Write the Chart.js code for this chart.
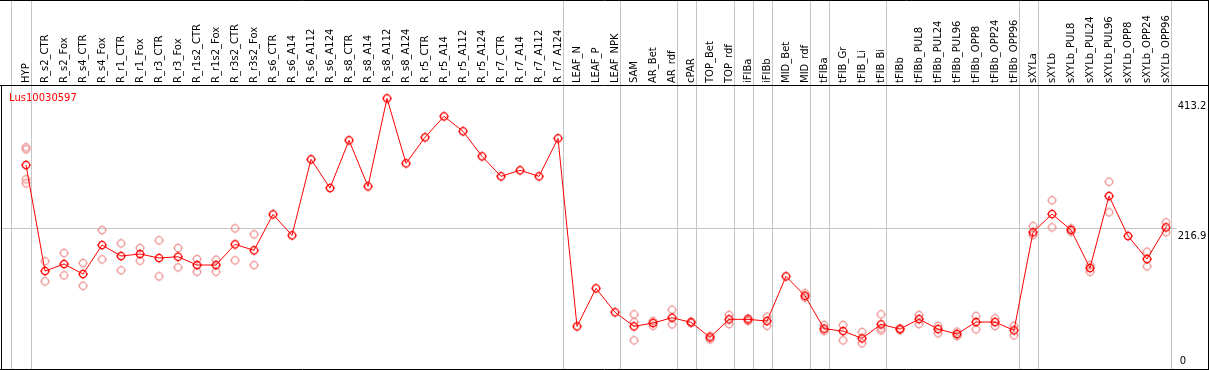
<!DOCTYPE html>
<html lang="en">
  <head>
    <meta charset="UTF-8" />
    <title>Lus10030597</title>
    <script src="https://cdn.jsdelivr.net/npm/chart.js@4/dist/chart.umd.min.js"></script>
    <style>
      body { margin: 0; background: #fff; }
      canvas { display: block; }
    </style>
  </head>
  <body>
    <canvas id="expressionChart" width="1209" height="370"></canvas>

    <script>
      const geneName = 'Lus10030597'

      const categories = [
        'HYP', 'R_s2_CTR', 'R_s2_Fox', 'R_s4_CTR', 'R_s4_Fox', 'R_r1_CTR', 'R_r1_Fox',
        'R_r3_CTR', 'R_r3_Fox', 'R_r1s2_CTR', 'R_r1s2_Fox', 'R_r3s2_CTR', 'R_r3s2_Fox',
        'R_s6_CTR', 'R_s6_A14', 'R_s6_A112', 'R_s6_A124', 'R_s8_CTR', 'R_s8_A14',
        'R_s8_A112', 'R_s8_A124', 'R_r5_CTR', 'R_r5_A14', 'R_r5_A112', 'R_r5_A124',
        'R_r7_CTR', 'R_r7_A14', 'R_r7_A112', 'R_r7_A124', 'LEAF_N', 'LEAF_P', 'LEAF_NPK',
        'SAM', 'AR_Bet', 'AR_rdf', 'cPAR', 'TOP_Bet', 'TOP_rdf', 'iFIBa', 'iFIBb',
        'MID_Bet', 'MID_rdf', 'tFIBa', 'tFIB_Gr', 'tFIB_Li', 'tFIB_Bi', 'tFIBb',
        'tFIBb_PUL8', 'tFIBb_PUL24', 'tFIBb_PUL96', 'tFIBb_OPP8', 'tFIBb_OPP24',
        'tFIBb_OPP96', 'sXYLa', 'sXYLb', 'sXYLb_PUL8', 'sXYLb_PUL24', 'sXYLb_PUL96',
        'sXYLb_OPP8', 'sXYLb_OPP24', 'sXYLb_OPP96'
      ]

      // mean expression per sample
      const meanValues = [
        312.5, 152.4, 163.0, 147.9, 191.7, 175.1, 178.1, 172.1, 174.0, 161.5, 161.5,
        192.7, 183.7, 238.0, 206.3, 321.1, 277.7, 349.8, 280.3, 413.2, 315.0, 354.3,
        386.0, 363.4, 325.6, 295.4, 304.5, 295.4, 352.8, 68.9, 126.3, 90.1, 68.9, 73.9,
        81.9, 75.0, 52.3, 79.5, 79.5, 76.9, 144.4, 115.1, 65.3, 61.8, 50.8, 71.9, 64.8,
        79.9, 64.8, 57.3, 75.4, 75.4, 62.9, 210.9, 238.5, 214.4, 157.0, 265.7, 205.3,
        170.5, 218.4
      ]

      // individual replicates (empty where none are shown)
      const replicateValues = [
        [339.2, 336.2, 290.9, 284.8], [167.1, 136.9], [179.6, 145.9], [164.5, 130.2],
        [214.3, 170.1], [194.2, 153.5], [187.2, 168.0], [198.8, 144.4], [187.2, 158.0],
        [170.5, 151.4], [169.5, 151.4], [216.9, 168.6], [207.8, 161.5],
        [], [], [], [], [], [], [], [], [], [], [], [], [], [], [], [], [], [], [],
        [87.0, 75.4, 47.8], [76.9, 69.8], [94.0, 71.9], [76.0, 74.0], [54.7, 49.3],
        [86.0, 72.4], [81.0, 76.9], [83.4, 69.8], [], [118.8, 112.0], [70.9, 61.8],
        [70.9, 47.8], [60.3, 43.3], [87.0, 62.9, 65.8], [66.0, 63.0], [86.0, 72.4],
        [69.4, 58.4], [60.8, 54.3], [84.5, 64.4], [81.0, 69.4], [69.8, 55.3],
        [220.4, 206.8], [259.2, 218.4], [216.9, 211.8], [161.5, 151.4], [287.3, 241.1],
        [], [181.6, 159.5], [225.9, 210.9]
      ]

      const yTicks = [0, 216.9, 413.2]
      // last sample of each group
      const groupEnds = [0, 28, 31, 34, 35, 37, 38, 39, 41, 42, 45, 52, 53, 60]

      Chart.defaults.font.family = '"DejaVu Sans", sans-serif'
      Chart.defaults.font.size = 10

      function makeMarker(color) {
        const c = document.createElement('canvas')
        c.width = 12
        c.height = 12
        const g = c.getContext('2d')
        g.strokeStyle = color
        g.fillStyle = color
        g.lineWidth = 1.3
        g.beginPath()
        g.arc(6, 6, 3.6, 0, Math.PI * 2)
        g.stroke()
        g.fillRect(5.5, 1, 1, 1)
        g.fillRect(5.5, 10, 1, 1)
        g.fillRect(1, 5.5, 1, 1)
        g.fillRect(10, 5.5, 1, 1)
        return c
      }

      const meanPoints = meanValues.map((v, i) => ({ x: i, y: v }))
      const repPoints = []
      replicateValues.forEach((reps, i) => {
        reps.forEach(v => repPoints.push({ x: i, y: v }))
      })

      const framePlugin = {
        id: 'frame',
        beforeDatasetsDraw(chart) {
          const { ctx, scales: { x } } = chart
          ctx.save()
          ctx.strokeStyle = '#c4c4c4'
          ctx.lineWidth = 1
          const lines = [-0.8].concat(groupEnds.map(i => i + 0.25))
          lines.forEach(v => {
            const px = Math.round(x.getPixelForValue(v)) + 0.5
            ctx.beginPath()
            ctx.moveTo(px, 0)
            ctx.lineTo(px, chart.height)
            ctx.stroke()
          })
          ctx.restore()
        },
        afterDraw(chart) {
          const { ctx, chartArea, scales: { y } } = chart
          const W = chart.width
          const H = chart.height
          ctx.save()
          ctx.strokeStyle = '#000'
          ctx.lineWidth = 1
          ctx.beginPath()
          ctx.moveTo(0, 0.5); ctx.lineTo(W, 0.5)
          ctx.moveTo(0, chartArea.top + 0.5); ctx.lineTo(W, chartArea.top + 0.5)
          ctx.moveTo(0, H - 0.5); ctx.lineTo(W, H - 0.5)
          ctx.moveTo(1.5, chartArea.top); ctx.lineTo(1.5, H)
          ctx.moveTo(W - 0.5, 0); ctx.lineTo(W - 0.5, H)
          ctx.stroke()

          // gene name
          ctx.fillStyle = '#ff0000'
          ctx.font = '10px "DejaVu Sans"'
          ctx.textAlign = 'left'
          ctx.textBaseline = 'alphabetic'
          ctx.fillText(geneName, chartArea.left + 8, chartArea.top + 16)

          // value labels on the right
          ctx.fillStyle = '#000'
          yTicks.forEach(v => {
            const py = y.getPixelForValue(v)
            if (v === 0) {
              ctx.textBaseline = 'alphabetic'
              ctx.fillText(String(v), chartArea.right + 9, py - 7.5)
            } else {
              ctx.textBaseline = 'top'
              ctx.fillText(v.toFixed(1), chartArea.right + 7, py + 3)
            }
          })
          ctx.restore()
        }
      }

      new Chart(document.getElementById('expressionChart'), {
        type: 'line',
        data: {
          datasets: [
            {
              label: geneName,
              data: meanPoints,
              borderColor: '#ff0000',
              borderWidth: 1,
              tension: 0,
              pointStyle: makeMarker('#ff0000'),
              order: 0
            },
            {
              label: 'replicates',
              data: repPoints,
              showLine: false,
              pointStyle: makeMarker('#ef9a9a'),
              order: 1
            }
          ]
        },
        options: {
          responsive: false,
          animation: false,
          layout: {
            autoPadding: false,
            padding: { left: 1, top: 0, right: 0, bottom: 0 }
          },
          plugins: {
            legend: { display: false },
            tooltip: { enabled: false }
          },
          scales: {
            x: {
              type: 'linear',
              position: 'top',
              min: -1.316,
              max: 60.247,
              afterBuildTicks: scale => {
                scale.ticks = categories.map((c, i) => ({ value: i }))
              },
              afterFit: scale => {
                scale.height = 85
                scale.paddingLeft = 0
                scale.paddingRight = 0
              },
              grid: { display: false, drawTicks: false },
              border: { display: false },
              ticks: {
                autoSkip: false,
                minRotation: 90,
                maxRotation: 90,
                padding: 2,
                labelOffset: 12,
                color: '#000',
                callback: value => categories[value]
              }
            },
            y: {
              position: 'right',
              min: 3,
              max: 433.3,
              afterBuildTicks: scale => {
                scale.ticks = yTicks.map(v => ({ value: v }))
              },
              afterFit: scale => {
                scale.width = 38.3
                scale.paddingTop = 0
                scale.paddingBottom = 0
              },
              grid: {
                color: c => (c.tick && c.tick.value === 216.9 ? '#c4c4c4' : 'transparent'),
                drawTicks: true,
                tickLength: 6
              },
              border: { display: false },
              ticks: { display: false }
            }
          }
        },
        plugins: [framePlugin]
      })
    </script>
  </body>
</html>
